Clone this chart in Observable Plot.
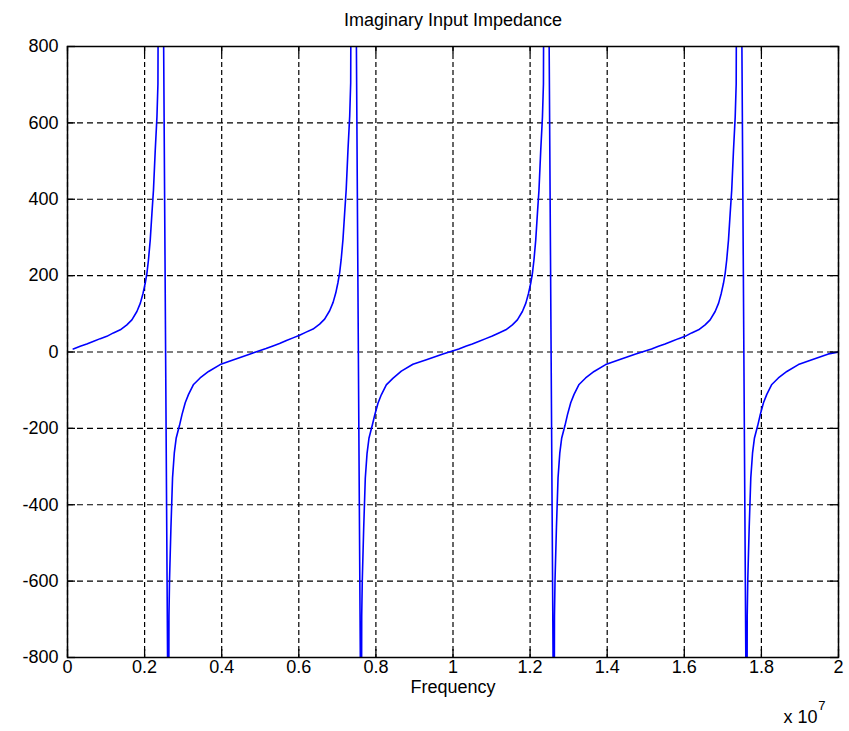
<!DOCTYPE html>
<html>
<head>
<meta charset="utf-8">
<script src="https://cdn.jsdelivr.net/npm/d3@7"></script>
<script src="https://cdn.jsdelivr.net/npm/@observablehq/plot@0.6"></script>
<style>
  body { margin: 0; background: #fff; }
  #chart svg { display: block; }
</style>
</head>
<body>
<div id="chart"></div>
<script>
// ---- texts ----
const title = "Imaginary Input Impedance";
const xLabel = "Frequency";
const xExpBase = "x 10";
const xExpPower = "7";

// ---- tick values and labels ----
const xTicks = [0, 0.2, 0.4, 0.6, 0.8, 1, 1.2, 1.4, 1.6, 1.8, 2];
const xTickLabels = ["0", "0.2", "0.4", "0.6", "0.8", "1", "1.2", "1.4", "1.6", "1.8", "2"];
const yTicks = [-800, -600, -400, -200, 0, 200, 400, 600, 800];
const yTickLabels = ["-800", "-600", "-400", "-200", "0", "200", "400", "600", "800"];

// ---- series: frequency (x 10^7 Hz) and imaginary impedance ----
const freq = [
  0.015, 0.033, 0.05, 0.068, 0.085, 0.102, 0.119, 0.137, 0.154, 0.167, 0.18, 0.189, 0.196, 0.2016, 0.206, 0.21, 0.2146, 0.219, 0.223, 0.2276, 0.232, 0.2346, 0.2398,
  0.2621, 0.2632, 0.2647, 0.2683, 0.2725, 0.277, 0.282, 0.2906, 0.297, 0.3054, 0.314, 0.327, 0.344, 0.366, 0.396, 0.431, 0.474,
  0.515, 0.533, 0.55, 0.568, 0.585, 0.602, 0.619, 0.637, 0.654, 0.667, 0.68, 0.689, 0.696, 0.7016, 0.706, 0.71, 0.7146, 0.719, 0.723, 0.7276, 0.732, 0.7346, 0.7398,
  0.7621, 0.7632, 0.7647, 0.7683, 0.7725, 0.777, 0.782, 0.7906, 0.797, 0.8054, 0.814, 0.827, 0.844, 0.866, 0.896, 0.931, 0.974,
  1.015, 1.033, 1.05, 1.068, 1.085, 1.102, 1.119, 1.137, 1.154, 1.167, 1.18, 1.189, 1.196, 1.2016, 1.206, 1.21, 1.2146, 1.219, 1.223, 1.2276, 1.232, 1.2346, 1.2398,
  1.2621, 1.2632, 1.2647, 1.2683, 1.2725, 1.277, 1.282, 1.2906, 1.297, 1.3054, 1.314, 1.327, 1.344, 1.366, 1.396, 1.431, 1.474,
  1.515, 1.533, 1.55, 1.568, 1.585, 1.602, 1.619, 1.637, 1.654, 1.667, 1.68, 1.689, 1.696, 1.7016, 1.706, 1.71, 1.7146, 1.719, 1.723, 1.7276, 1.732, 1.7346, 1.7398,
  1.7621, 1.7632, 1.7647, 1.7683, 1.7725, 1.777, 1.782, 1.7906, 1.797, 1.8054, 1.814, 1.827, 1.844, 1.866, 1.896, 1.931, 1.974,
  2.0
];
const imagZ = [
  8, 15, 21, 28, 35, 41, 50, 58, 71, 84, 106, 128, 154, 180, 206, 241, 293, 363, 424, 528, 615, 702, 2320,
  -1200, -690, -595, -460, -329, -265, -225, -192, -164, -133, -111, -85, -68, -51, -33, -20, -5,
  9, 16, 22, 30, 37, 44, 52, 60, 73, 86, 108, 130, 155, 182, 208, 243, 295, 365, 426, 530, 617, 705, 2320,
  -1200, -690, -597, -462, -330, -266, -226, -192, -165, -134, -112, -86, -69, -50, -32, -20, -5,
  8, 15, 21, 28, 35, 42, 50, 58, 71, 84, 106, 128, 154, 180, 206, 241, 293, 363, 424, 528, 615, 702, 2320,
  -1200, -690, -595, -460, -329, -265, -225, -192, -164, -133, -111, -85, -68, -51, -33, -20, -5,
  8, 15, 21, 28, 35, 41, 50, 58, 71, 84, 106, 128, 154, 180, 206, 241, 293, 363, 424, 528, 615, 702, 2320,
  -1200, -690, -595, -460, -329, -265, -225, -192, -164, -133, -111, -85, -68, -51, -33, -20, -5,
  0
];

const data = freq.map((f, i) => ({f, z: imagZ[i]}));
const xFmt = d => xTickLabels[xTicks.indexOf(d)];
const yFmt = d => yTickLabels[yTicks.indexOf(d)];
const font = "'Liberation Sans', Arial, Helvetica, sans-serif";

const W = 849, H = 731, mL = 67, mR = 11, mT = 46, mB = 74;
const plotW = W - mL - mR, plotH = H - mT - mB, tick = 8;

const chart = Plot.plot({
  width: W, height: H,
  marginLeft: mL, marginRight: mR, marginTop: mT, marginBottom: mB,
  style: {fontFamily: font, fontSize: "18px", background: "#fff", color: "#000", overflow: "visible"},
  x: {domain: [0, 2], ticks: xTicks, tickFormat: xFmt},
  y: {domain: [-800, 800], ticks: yTicks, tickFormat: yFmt},
  marks: [
    Plot.gridX(xTicks, {stroke: "#000", strokeOpacity: 1, strokeWidth: 1.2, strokeDasharray: "5,3"}),
    Plot.gridY(yTicks, {stroke: "#000", strokeOpacity: 1, strokeWidth: 1.2, strokeDasharray: "6,4"}),
    Plot.line(data, {x: "f", y: "z", stroke: "#0000ff", strokeWidth: 1.6, clip: true}),
    // inward tick marks on all four sides
    Plot.tickX(xTicks, {x: d => d, insetTop: plotH - tick, stroke: "#000", strokeWidth: 1.3}),
    Plot.tickX(xTicks, {x: d => d, insetBottom: plotH - tick, stroke: "#000", strokeWidth: 1.3}),
    Plot.tickY(yTicks, {y: d => d, insetRight: plotW - tick, stroke: "#000", strokeWidth: 1.3}),
    Plot.tickY(yTicks, {y: d => d, insetLeft: plotW - tick, stroke: "#000", strokeWidth: 1.3}),
    Plot.axisX(xTicks, {anchor: "bottom", tickSize: 0, tickPadding: 3, label: null, tickFormat: xFmt, fontSize: 18}),
    Plot.axisY(yTicks, {anchor: "left", tickSize: 0, tickPadding: 9, label: null, tickFormat: yFmt, fontSize: 18}),
    Plot.frame({stroke: "#000", strokeWidth: 1.5}),
    Plot.text([title], {text: d => d, frameAnchor: "top", dy: -26, lineAnchor: "middle", fontSize: 18}),
    Plot.text([xLabel], {text: d => d, frameAnchor: "bottom", dy: 30, lineAnchor: "middle", fontSize: 18}),
    Plot.text([xExpBase], {text: d => d, frameAnchor: "bottom-right", dx: -21, dy: 60, lineAnchor: "middle", textAnchor: "end", fontSize: 18}),
    Plot.text([xExpPower], {text: d => d, frameAnchor: "bottom-right", dx: -13, dy: 48, lineAnchor: "middle", textAnchor: "end", fontSize: 13})
  ]
});
document.getElementById("chart").appendChild(chart);
</script>
</body>
</html>
